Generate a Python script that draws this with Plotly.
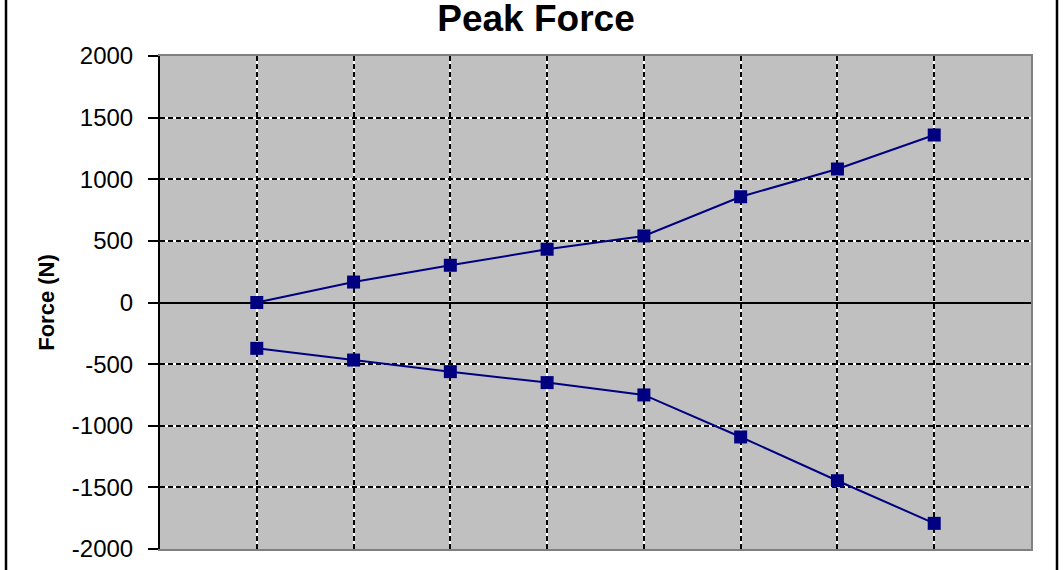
import plotly.graph_objects as go

# Data
positions = [1, 2, 3, 4, 5, 6, 7, 8]
upper_force = [0, 166, 302, 432, 540, 858, 1083, 1359]
lower_force = [-372, -467, -561, -650, -750, -1091, -1446, -1792]
y_tick_vals = [2000, 1500, 1000, 500, 0, -500, -1000, -1500, -2000]
y_tick_text = ["2000", "1500", "1000", "500", "0", "-500", "-1000", "-1500", "-2000"]

NAVY = "#000080"
FONT = "Liberation Sans, Arial, sans-serif"

fig = go.Figure()

# empty trace to register the base subplot (white solid grid)
fig.add_trace(go.Scatter(x=[], y=[], xaxis="x", yaxis="y", showlegend=False))

for vals in (upper_force, lower_force):
    fig.add_trace(go.Scatter(
        x=positions, y=vals, xaxis="x2", yaxis="y2",
        mode="lines+markers",
        line=dict(color=NAVY, width=2),
        marker=dict(symbol="square", size=13, color=NAVY),
        showlegend=False,
    ))

fig.update_layout(
    width=1064, height=570,
    margin=dict(l=160, r=33, t=56, b=21, autoexpand=False),
    paper_bgcolor="white",
    plot_bgcolor="#c0c0c0",
    font=dict(family=FONT, color="black"),
    title=dict(text="<b>Peak Force</b>", x=0.5 + 4 / 1064, xanchor="center", xref="container",
               y=1 - 18 / 570, yanchor="middle", yref="container",
               font=dict(size=37, family=FONT, color="black")),
    xaxis=dict(range=[0, 9], dtick=1, tick0=0, showticklabels=False, ticks="",
               showgrid=True, gridcolor="white", gridwidth=2,
               showline=True, linecolor="#808080", linewidth=2, mirror=True,
               zeroline=False, automargin=False),
    yaxis=dict(range=[-2000, 2000], tickvals=y_tick_vals, ticktext=y_tick_text,
               showticklabels=True, automargin=False,
               ticks="outside", ticklen=10, tickcolor="black", tickwidth=2,
               ticklabelstandoff=10,
               tickfont=dict(size=24, family=FONT, color="black"),
               showgrid=True, gridcolor="white", gridwidth=2,
               showline=True, linecolor="black", linewidth=2,
               zeroline=False,
               title=dict(text="<b>Force (N)</b>", standoff=11,
                          font=dict(size=22, family=FONT, color="black"))),
    xaxis2=dict(range=[0, 9], dtick=1, tick0=0, overlaying="x", anchor="y2",
                showticklabels=False, ticks="", automargin=False,
                showgrid=True, gridcolor="black", gridwidth=2, griddash="5px,3px",
                showline=False, zeroline=False),
    yaxis2=dict(range=[-2000, 2000], tickvals=y_tick_vals, overlaying="y", anchor="x2",
                side="right", showticklabels=False, ticks="", automargin=False,
                showgrid=True, gridcolor="black", gridwidth=2, griddash="5px,3px",
                showline=True, linecolor="#808080", linewidth=2,
                zeroline=True, zerolinecolor="black", zerolinewidth=2),
    shapes=[
        dict(type="line", xref="paper", yref="paper",
             x0=(6 - 160) / 871, x1=(6 - 160) / 871, y0=-0.2, y1=1.3,
             line=dict(color="black", width=2.5)),
        dict(type="line", xref="paper", yref="paper",
             x0=(1057 - 160) / 871, x1=(1057 - 160) / 871, y0=-0.2, y1=1.3,
             line=dict(color="black", width=2.5)),
    ],
)

fig.write_html("out.html",
               config={"displayModeBar": False},
               post_script="document.body.style.margin='0';document.body.style.overflow='hidden';")
